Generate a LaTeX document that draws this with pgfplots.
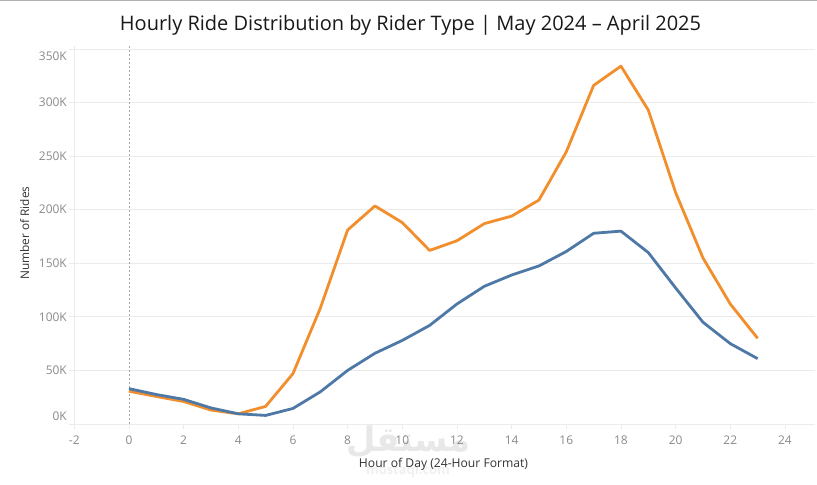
\documentclass[border=0pt]{standalone}
\usepackage{fontspec}
\setmainfont{Open Sans}
\newfontfamily\arabicfont[Script=Arabic]{DejaVu Sans}
\TeXXeTstate=1
\usepackage{graphicx}
\usepackage{pgfplots}
\pgfplotsset{compat=1.18}

\definecolor{casual}{HTML}{F28E2B}
\definecolor{member}{HTML}{4E79A7}
\definecolor{gridc}{HTML}{EBEBEB}
\definecolor{tickc}{HTML}{8A8A8A}
\definecolor{labc}{HTML}{333333}

\begin{document}
\begin{tikzpicture}[x=1bp,y=1bp]
\useasboundingbox (0,0) rectangle (817,485);
\fill[white] (0,0) rectangle (817,485);
\draw[black!30, line width=1.5bp] (0,484.25) -- (817,484.25);

% watermark
\node[text=black!9, font=\arabicfont\bfseries\fontsize{34}{34}\selectfont] at (408,43) {\beginR مستقل\endR};
\node[text=black!6, font=\bfseries\fontsize{13}{13}\selectfont] at (408,14) {mostaql.com};

\begin{axis}[
  at={(74bp,61bp)}, anchor=south west,
  scale only axis, width=741bp, height=378bp,
  xmin=-2.01, xmax=25.1, ymin=0, ymax=352800,
  axis x line*=bottom, axis y line*=left,
  axis line style={gridc, -},
  ymajorgrids, grid style={gridc, line width=0.8bp},
  xtick={-2,0,...,24},
  ytick={0,50000,...,350000},
  yticklabels={0K,50K,100K,150K,200K,250K,300K,350K},
  scaled y ticks=false,
  tick style={gridc, line width=0.8bp},
  major tick length=5bp, tick align=outside,
  /pgf/number format/assume math mode=true,
  ticklabel style={font=\fontsize{12}{12}\selectfont, text=tickc},
  yticklabel style={anchor=east, inner sep=0pt, xshift=-2bp,
    yshift={\ticknum==0 ? 8 : (\ticknum==7 ? -7 : 0)}},
  xticklabel style={anchor=north, inner sep=0pt, yshift=-7bp},
  clip=false,
]
\addplot[black!35, line width=0.6bp, dash pattern=on 2bp off 2bp] coordinates {(0,0) (0,352800)};

\addplot[casual, line width=2.8bp, line join=round] coordinates {
  (0,30600) (1,25700) (2,21000) (3,13000) (4,9500) (5,16400)
  (6,47000) (7,108000) (8,181000) (9,203500) (10,188000) (11,162000)
  (12,171000) (13,187000) (14,194000) (15,209000) (16,254000) (17,316000)
  (18,334000) (19,293000) (20,216000) (21,155000) (22,112000) (23,80000)
};
\addplot[member, line width=2.8bp, line join=round] coordinates {
  (0,33000) (1,27500) (2,23000) (3,15000) (4,9500) (5,8000)
  (6,14500) (7,30000) (8,50000) (9,66000) (10,78000) (11,92000)
  (12,112000) (13,128500) (14,139000) (15,147500) (16,161000) (17,178000)
  (18,180000) (19,160000) (20,127000) (21,95000) (22,75000) (23,61000)
};
\end{axis}

\node[anchor=base, text=black!90] at (410.5,454) {\resizebox{581bp}{!}{Hourly Ride Distribution by Rider Type | May 2024 – April 2025}};
\node[anchor=base, text=labc] at (443.5,17) {\resizebox{169bp}{!}{Hour of Day (24-Hour Format)}};
\node[anchor=base, rotate=90, text=labc] at (29,252) {\resizebox{93bp}{!}{Number of Rides}};
\end{tikzpicture}
\end{document}
